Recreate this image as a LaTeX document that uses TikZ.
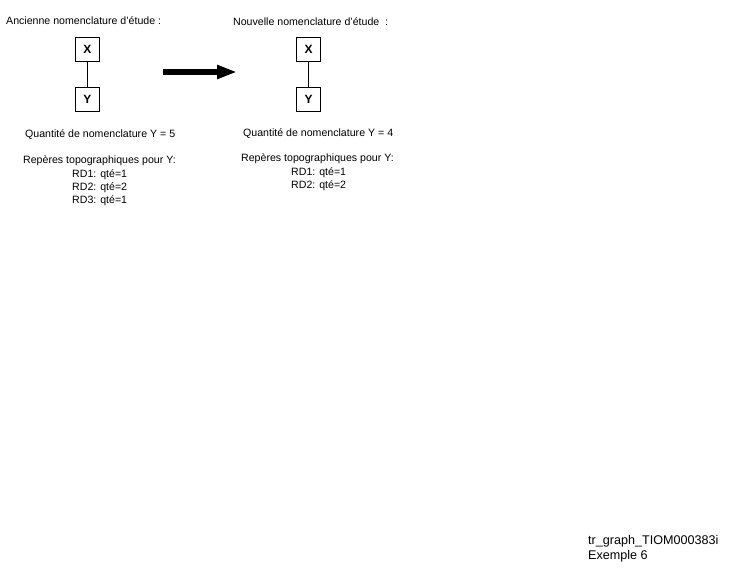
\documentclass[tikz,border=0pt]{standalone}
\usepackage{fontspec}
\setmainfont{Liberation Sans}
\usepackage{tikz}
\usetikzlibrary{arrows.meta,positioning}
\tikzset{
  itembox/.style={draw,line width=0.8pt,minimum width=24pt,minimum height=24pt,inner sep=0pt,font=\bfseries\fontsize{12}{13}\selectfont},
  txt/.style={anchor=west,inner sep=0pt,font=\fontsize{10.6}{13}\selectfont},
  lst/.style={anchor=west,inner sep=0pt,align=left,font=\fontsize{10.6}{13}\selectfont}
}

\begin{document}
\begin{tikzpicture}[x=1pt,y=-1pt]
                \useasboundingbox (0,0) rectangle (755,573);
                % ancienne nomenclature
                \node[txt] (titreA) at (6,21) {Ancienne nomenclature d'étude :};
                \node[itembox] (xa) at (87.5,49) {X};
                \node[itembox] (ya) at (87.5,99) {Y};
                \draw[line width=0.6pt] (xa) -- (ya);
                \node[txt] (qteA) at (25,135) {Quantité de nomenclature Y = 5};
                \node[txt] (repA) at (23,161) {Repères topographiques pour Y:};
                \node[lst] (rdA) at (72,188) {RD1: qté=1\\RD2: qté=2\\RD3: qté=1};
                % nouvelle nomenclature
                \node[txt] (titreB) at (233,22) {Nouvelle nomenclature d'étude\ \ :};
                \node[itembox] (xb) at (308.5,49) {X};
                \node[itembox] (yb) at (308.5,99) {Y};
                \draw[line width=0.6pt] (xb) -- (yb);
                \node[txt] (qteB) at (243,134) {Quantité de nomenclature Y = 4};
                \node[txt] (repB) at (241,159) {Repères topographiques pour Y:};
                \node[lst] (rdB) at (291,179.5) {RD1: qté=1\\RD2: qté=2};
                % fleche
                \coordinate (fa) at (163,72);
                \coordinate (fb) at (237,72);
                \draw[line width=5.5pt,-{Triangle[length=20pt,width=13pt]}] (fa) -- (fb);
                % reference
                \node[anchor=west,inner sep=0pt,align=left,font=\fontsize{12.6}{15}\selectfont] (ref) at (588,548.5) {tr\_graph\_TIOM000383i\\Exemple 6};
            \end{tikzpicture}
\end{document}
